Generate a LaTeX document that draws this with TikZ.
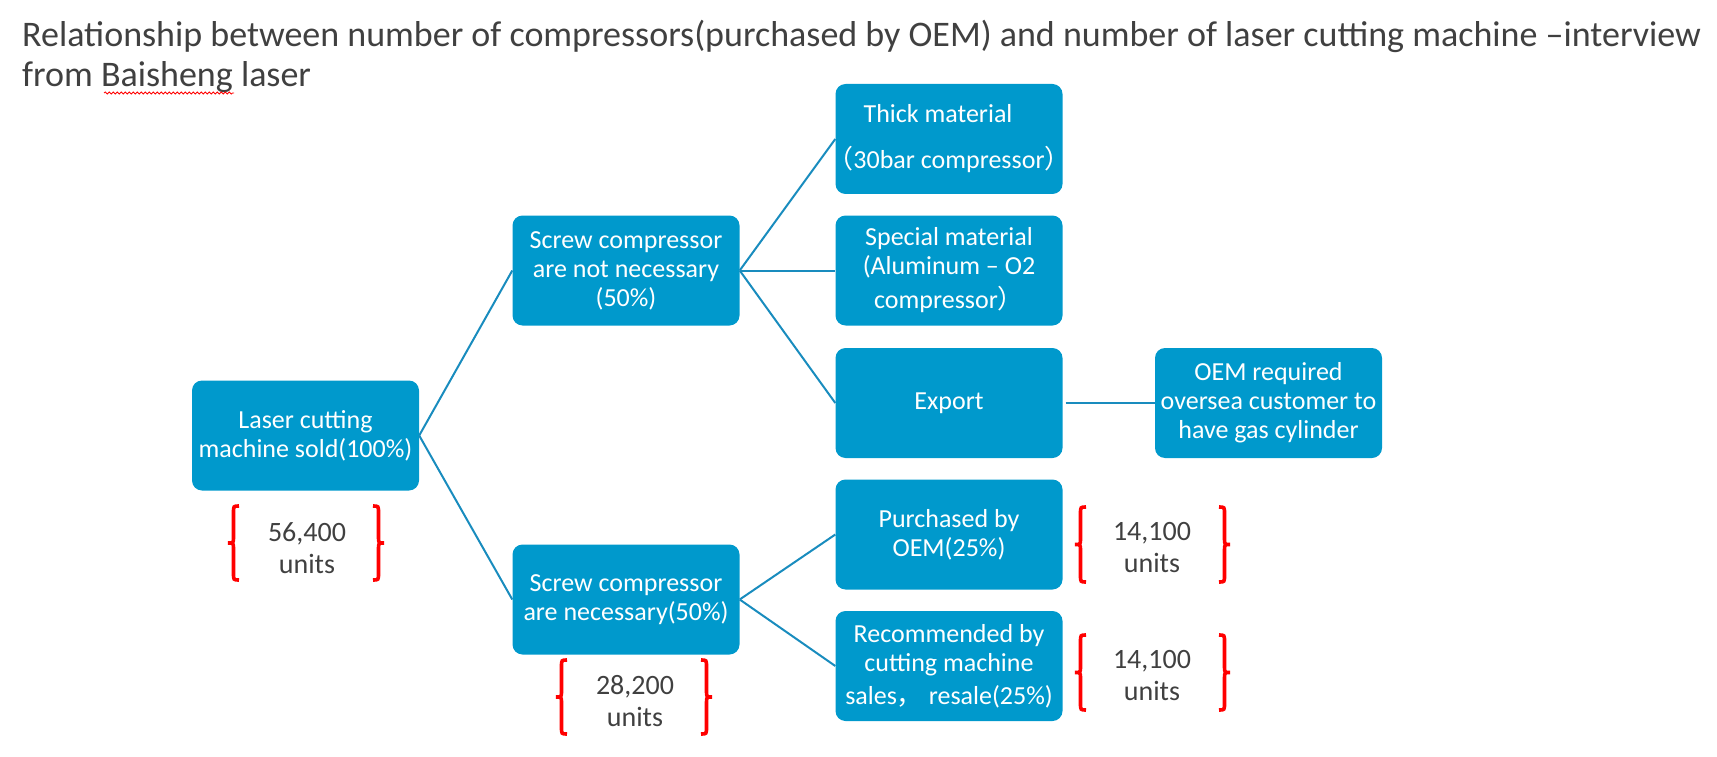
\documentclass[tikz,border=0pt]{standalone}
\usepackage{fontspec}
\setmainfont{Carlito}
\newfontfamily\cjk{Noto Sans CJK SC}
\usetikzlibrary{decorations.pathmorphing}
\definecolor{boxblue}{RGB}{0,153,204}
\definecolor{linkblue}{RGB}{25,140,190}
\definecolor{titlegray}{RGB}{64,64,64}
\definecolor{bracered}{RGB}{255,0,0}
\tikzset{
  box/.style={fill=boxblue, rounded corners=10pt, minimum width=227pt, minimum height=110pt,
    text=white, align=center, font=\fontsize{26}{29}\selectfont, inner sep=0pt},
  link/.style={draw=linkblue, line width=2pt},
  units/.style={text=titlegray, align=center, font=\fontsize{28}{32}\selectfont, inner sep=0pt},
  bracestyle/.style={draw=bracered, line width=3.6pt},
  titletext/.style={text=titlegray, font=\fontsize{36}{40}\selectfont, inner sep=0pt, anchor=base west}
}
% left curly brace: x of tip, top, bottom
\newcommand{\redLbrace}[3]{%
  \draw[bracestyle] (#1+11,#2) .. controls (#1+5.5,#2) .. (#1+5.5,#2+7)
    -- (#1+5.5,{(#2+#3)/2-6}) .. controls (#1+5.5,{(#2+#3)/2}) .. (#1,{(#2+#3)/2})
    .. controls (#1+5.5,{(#2+#3)/2}) .. (#1+5.5,{(#2+#3)/2+6})
    -- (#1+5.5,#3-7) .. controls (#1+5.5,#3) .. (#1+11,#3);}
% right curly brace: x of tip, top, bottom
\newcommand{\redRbrace}[3]{%
  \draw[bracestyle] (#1-11,#2) .. controls (#1-5.5,#2) .. (#1-5.5,#2+7)
    -- (#1-5.5,{(#2+#3)/2-6}) .. controls (#1-5.5,{(#2+#3)/2}) .. (#1,{(#2+#3)/2})
    .. controls (#1-5.5,{(#2+#3)/2}) .. (#1-5.5,{(#2+#3)/2+6})
    -- (#1-5.5,#3-7) .. controls (#1-5.5,#3) .. (#1-11,#3);}
\begin{document}
\begin{tikzpicture}[x=1pt,y=-1pt]
\useasboundingbox (0,0) rectangle (1717,757);

% title
\node[titletext] (title1) at (22,47) {Relationship between number of compressors(purchased by OEM) and number of laser cutting machine –interview};
\node[titletext] (title2) at (22,87) {from Baisheng laser};
\draw[red, line width=0.8pt, decorate, decoration={snake, amplitude=1pt, segment length=4pt}] (104,93) -- (234,93);

% boxes
\node[box] (laser) at (305.5,435.5) {Laser cutting\\machine sold(100\%)};
\node[box] (scrnot) at (626,270.5) {Screw compressor\\are not necessary\\(50\%)};
\node[box] (scrnec) at (626,599.5) {Screw compressor\\are necessary(50\%)};
\node[box] (thick) at (949,139) {Thick material\hspace*{22pt}\\[17pt]\makebox[9pt][r]{\cjk （}30bar compressor\makebox[9pt][l]{\cjk ）}};
\node[box] (special) at (949,270.5) {Special material\\(Aluminum – O2\\[5pt]compressor{\cjk ）}};
\node[box] (export) at (949,403) {Export};
\node[box] (oem) at (1268.5,403) {OEM required\\oversea customer to\\have gas cylinder};
\node[box] (purch) at (949,534.5) {Purchased by\\OEM(25\%)};
\node[box] (recom) at (949,666) {Recommended by\\cutting machine\\[4pt]sales{\cjk ，} resale(25\%)};

% connectors
\draw[link] (laser.east) -- (scrnot.west);
\draw[link] (laser.east) -- (scrnec.west);
\draw[link] (scrnot.east) -- (thick.west);
\draw[link] (scrnot.east) -- (special.west);
\draw[link] (scrnot.east) -- (export.west);
\draw[link] ([xshift=3pt]export.east) -- (oem.west);
\draw[link] (scrnec.east) -- (purch.west);
\draw[link] (scrnec.east) -- (recom.west);

% unit counts
\node[units] (u1) at (307,548) {56,400\\units};
\redLbrace{228}{506}{580}
\redRbrace{384}{506}{580}

\node[units] (u2) at (635,701) {28,200\\units};
\redLbrace{556}{660}{734}
\redRbrace{712}{660}{734}

\node[units] (u3) at (1152,548) {14,100\\units};
\redLbrace{1075}{507}{582}
\redRbrace{1230}{507}{582}

\node[units] (u4) at (1152,676) {14,100\\units};
\redLbrace{1075}{635}{710}
\redRbrace{1230}{635}{710}
\end{tikzpicture}
\end{document}
